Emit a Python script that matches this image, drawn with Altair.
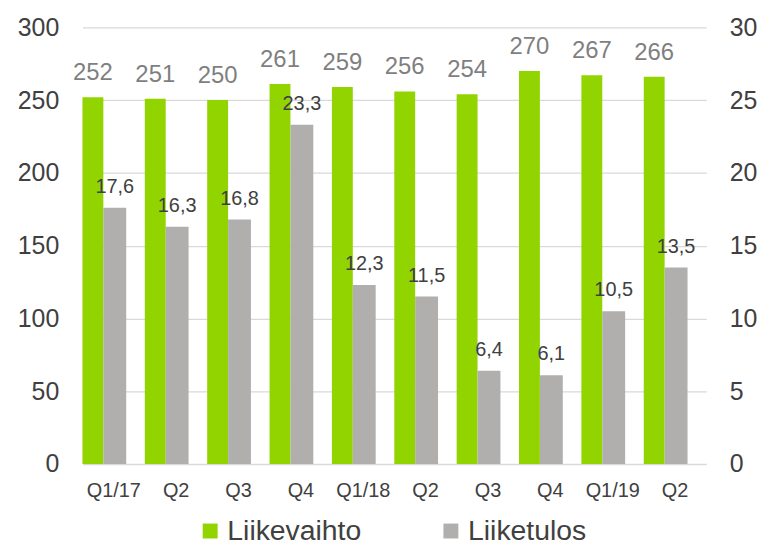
import altair as alt
import pandas as pd

quarters = ["Q1/17", "Q2/17", "Q3/17", "Q4/17", "Q1/18", "Q2/18", "Q3/18", "Q4/18", "Q1/19", "Q2/19"]
liikevaihto = [252, 251, 250, 261, 259, 256, 254, 270, 267, 266]
liiketulos = [17.6, 16.3, 16.8, 23.3, 12.3, 11.5, 6.4, 6.1, 10.5, 13.5]
series = ["Liikevaihto", "Liiketulos"]
colors = ["#92d400", "#b0afae"]

rows = []
for q, v in zip(quarters, liikevaihto):
    rows.append({"q": q, "s": series[0], "v": v, "lab": str(v)})
for q, v in zip(quarters, liiketulos):
    rows.append({"q": q, "s": series[1], "v": v, "lab": f"{v:.1f}".replace(".", ",")})
df = pd.DataFrame(rows)

FONT = "Liberation Sans"

xenc = alt.X(
    "q:N",
    sort=quarters,
    scale=alt.Scale(paddingInner=0, paddingOuter=0),
    axis=alt.Axis(
        title=None,
        labelAngle=0,
        ticks=False,
        tickSize=0,
        domain=False,
        grid=False,
        labelFontSize=20,
        labelColor="#404040",
        labelFont=FONT,
        labelPadding=17,
        labelExpr="indexof(datum.value,'Q1')==0 ? datum.value : split(datum.value,'/')[0]",
    ),
)

color = alt.Color(
    "s:N",
    scale=alt.Scale(domain=series, range=colors),
    legend=alt.Legend(
        title=None,
        orient="none",
        direction="horizontal",
        legendX=114,
        legendY=492,
        symbolType="square",
        symbolSize=225,
        symbolStrokeWidth=0,
        symbolOpacity=1,
        labelFontSize=28.5,
        labelFont=FONT,
        labelColor="#404040",
        labelOffset=3,
        columnPadding=75,
        padding=0,
        labelLimit=400,
    ),
)

base = alt.Chart(df)

yL = alt.Y(
    "v:Q",
    scale=alt.Scale(domain=[0, 300]),
    axis=alt.Axis(
        title=None,
        values=[0, 50, 100, 150, 200, 250, 300],
        orient="left",
        ticks=False,
        tickSize=0,
        domain=False,
        grid=True,
        gridColor="#d9d9d9",
        gridWidth=1.3,
        labelFontSize=25,
        labelFont=FONT,
        labelColor="#404040",
        labelPadding=24,
    ),
)
yR = alt.Y(
    "v:Q",
    scale=alt.Scale(domain=[0, 30]),
    axis=alt.Axis(
        title=None,
        values=[0, 5, 10, 15, 20, 25, 30],
        orient="right",
        ticks=False,
        tickSize=0,
        domain=False,
        grid=False,
        labelFontSize=25,
        labelFont=FONT,
        labelColor="#404040",
        labelPadding=23,
    ),
)

green = base.transform_filter(alt.datum.s == series[0])
gray = base.transform_filter(alt.datum.s == series[1])

green_bars = green.mark_bar(width=21, xOffset=-21).encode(x=xenc, y=yL, color=color)
green_text = green.mark_text(
    xOffset=-21, dy=-17, baseline="alphabetic", fontSize=24, font=FONT, color="#7f7f7f"
).encode(x=xenc, y=yL, text="lab:N")
left = alt.layer(green_bars, green_text)

gray_bars = gray.mark_bar(width=23, xOffset=1).encode(x=xenc, y=yR, color=color)
gray_text = gray.mark_text(
    xOffset=1, dy=-15, baseline="alphabetic", fontSize=20, font=FONT, color="#404040"
).encode(x=xenc, y=yR, text="lab:N")
right = alt.layer(gray_bars, gray_text)

chart = (
    alt.layer(left, right)
    .resolve_scale(y="independent")
    .properties(
        width=627,
        height=439,
        autosize=alt.AutoSizeParams(type="none"),
        padding={"left": 75, "top": 18, "right": 51, "bottom": 81},
        background="white",
    )
    .configure_view(stroke="transparent", strokeWidth=0)
)

chart.save("out.html", embed_options={"renderer": "svg", "actions": False})
